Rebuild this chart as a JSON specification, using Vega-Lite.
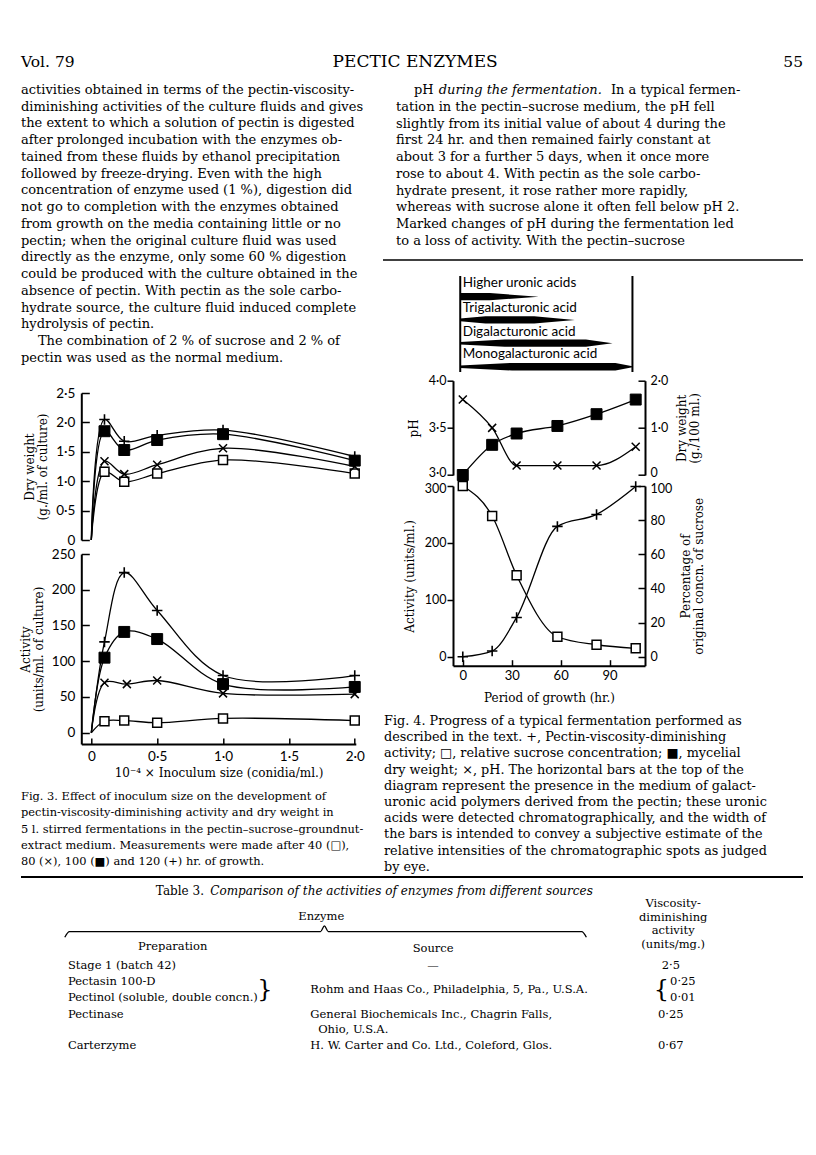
{
"$schema":"https://vega.github.io/schema/vega-lite/v6.json",
"background":"white",
"padding":{"left":18,"top":52,"right":0,"bottom":0},
"bounds":"flush",
"spacing":0,
"config":{
 "view":{"stroke":null},
 "axis":{"domainColor":"black","domainWidth":2,"tickColor":"black","tickWidth":1.5,"labelFont":"Lato","labelFontSize":13.5,"labelColor":"black","titleFont":"DejaVu Serif","titleFontSize":12,"titleFontWeight":"normal","titleColor":"black","titleLineHeight":13,"grid":false,"labelFlush":false,"labelOverlap":false},
 "text":{"font":"DejaVu Serif","color":"black","baseline":"middle"}
},
"datasets":{
 "bodyLeft":[
  {"line":0,"x":0,"text":"activities obtained in terms of the pectin-viscosity-"},
  {"line":1,"x":0,"text":"diminishing activities of the culture fluids and gives"},
  {"line":2,"x":0,"text":"the extent to which a solution of pectin is digested"},
  {"line":3,"x":0,"text":"after prolonged incubation with the enzymes ob-"},
  {"line":4,"x":0,"text":"tained from these fluids by ethanol precipitation"},
  {"line":5,"x":0,"text":"followed by freeze-drying. Even with the high"},
  {"line":6,"x":0,"text":"concentration of enzyme used (1 %), digestion did"},
  {"line":7,"x":0,"text":"not go to completion with the enzymes obtained"},
  {"line":8,"x":0,"text":"from growth on the media containing little or no"},
  {"line":9,"x":0,"text":"pectin; when the original culture fluid was used"},
  {"line":10,"x":0,"text":"directly as the enzyme, only some 60 % digestion"},
  {"line":11,"x":0,"text":"could be produced with the culture obtained in the"},
  {"line":12,"x":0,"text":"absence of pectin. With pectin as the sole carbo-"},
  {"line":13,"x":0,"text":"hydrate source, the culture fluid induced complete"},
  {"line":14,"x":0,"text":"hydrolysis of pectin."},
  {"line":15,"x":4.9,"text":"The combination of 2 % of sucrose and 2 % of"},
  {"line":16,"x":0,"text":"pectin was used as the normal medium."}
 ],
 "bodyRight":[
  {"line":0,"x":4.4,"text":"pH"},
  {"line":0,"x":52.8,"text":"In a typical fermen-"},
  {"line":1,"x":0,"text":"tation in the pectin–sucrose medium, the pH fell"},
  {"line":2,"x":0,"text":"slightly from its initial value of about 4 during the"},
  {"line":3,"x":0,"text":"first 24 hr. and then remained fairly constant at"},
  {"line":4,"x":0,"text":"about 3 for a further 5 days, when it once more"},
  {"line":5,"x":0,"text":"rose to about 4. With pectin as the sole carbo-"},
  {"line":6,"x":0,"text":"hydrate present, it rose rather more rapidly,"},
  {"line":7,"x":0,"text":"whereas with sucrose alone it often fell below pH 2."},
  {"line":8,"x":0,"text":"Marked changes of pH during the fermentation led"},
  {"line":9,"x":0,"text":"to a loss of activity. With the pectin–sucrose"}
 ],
 "bodyRightIt":[{"line":0,"x":10.5,"text":"during the fermentation."}],
 "fig3dw":[
  {"h":"40","x":0,"y":0},{"h":"40","x":0.1,"y":1.16},{"h":"40","x":0.25,"y":0.99},{"h":"40","x":0.5,"y":1.13},{"h":"40","x":1.0,"y":1.36},{"h":"40","x":2.0,"y":1.13},
  {"h":"80","x":0,"y":0},{"h":"80","x":0.1,"y":1.34},{"h":"80","x":0.25,"y":1.12},{"h":"80","x":0.5,"y":1.28},{"h":"80","x":1.0,"y":1.56},{"h":"80","x":2.0,"y":1.25},
  {"h":"100","x":0,"y":0},{"h":"100","x":0.1,"y":1.85},{"h":"100","x":0.25,"y":1.53},{"h":"100","x":0.5,"y":1.70},{"h":"100","x":1.0,"y":1.80},{"h":"100","x":2.0,"y":1.35},
  {"h":"120","x":0,"y":0},{"h":"120","x":0.1,"y":2.05},{"h":"120","x":0.25,"y":1.68},{"h":"120","x":0.5,"y":1.78},{"h":"120","x":1.0,"y":1.87},{"h":"120","x":2.0,"y":1.42}
 ],
 "fig3act":[
  {"h":"40","x":0,"y":0},{"h":"40","x":0.1,"y":16},{"h":"40","x":0.25,"y":17},{"h":"40","x":0.5,"y":14},{"h":"40","x":1.0,"y":20},{"h":"40","x":2.0,"y":17},
  {"h":"80","x":0,"y":0},{"h":"80","x":0.1,"y":70},{"h":"80","x":0.27,"y":68},{"h":"80","x":0.5,"y":73},{"h":"80","x":1.0,"y":55},{"h":"80","x":2.0,"y":54},
  {"h":"100","x":0,"y":0},{"h":"100","x":0.1,"y":105},{"h":"100","x":0.25,"y":141},{"h":"100","x":0.5,"y":131},{"h":"100","x":1.0,"y":68},{"h":"100","x":2.0,"y":64},
  {"h":"120","x":0,"y":0},{"h":"120","x":0.1,"y":127},{"h":"120","x":0.25,"y":224},{"h":"120","x":0.5,"y":171},{"h":"120","x":1.0,"y":80},{"h":"120","x":2.0,"y":80}
 ],
 "ph":[{"t":0,"v":3.8},{"t":18,"v":3.5},{"t":33,"v":3.1},{"t":58,"v":3.1},{"t":82,"v":3.1},{"t":106,"v":3.3}],
 "dw4":[{"t":0,"v":0.0},{"t":18,"v":0.64},{"t":33,"v":0.88},{"t":58,"v":1.04},{"t":82,"v":1.29},{"t":106,"v":1.6}],
 "act4":[{"t":0,"v":0},{"t":18,"v":10},{"t":33,"v":69},{"t":58,"v":229},{"t":82,"v":250},{"t":106,"v":299}],
 "suc4":[{"t":0,"v":100},{"t":18,"v":82.4},{"t":33,"v":47.7},{"t":58,"v":11.7},{"t":82,"v":7.0},{"t":106,"v":4.9}],
 "bars":[
  {"acid":"Higher uronic acids","t":-5.1,"lo":2.99,"hi":3.29},{"acid":"Higher uronic acids","t":15,"lo":2.99,"hi":3.29},{"acid":"Higher uronic acids","t":48,"lo":3.14,"hi":3.14},
  {"acid":"Trigalacturonic acid","t":-5.1,"lo":2.11,"hi":2.23},{"acid":"Trigalacturonic acid","t":12,"lo":2.02,"hi":2.32},{"acid":"Trigalacturonic acid","t":45,"lo":2.02,"hi":2.32},{"acid":"Trigalacturonic acid","t":72.5,"lo":2.17,"hi":2.17},
  {"acid":"Digalacturonic acid","t":-5.1,"lo":1.15,"hi":1.25},{"acid":"Digalacturonic acid","t":25,"lo":1.05,"hi":1.35},{"acid":"Digalacturonic acid","t":80,"lo":1.05,"hi":1.35},{"acid":"Digalacturonic acid","t":98,"lo":1.2,"hi":1.2},
  {"acid":"Monogalacturonic acid","t":-5.1,"lo":0.17,"hi":0.27},{"acid":"Monogalacturonic acid","t":30,"lo":0.06,"hi":0.38},{"acid":"Monogalacturonic acid","t":100,"lo":0.06,"hi":0.38},{"acid":"Monogalacturonic acid","t":111.5,"lo":0.2,"hi":0.24}
 ],
 "barLabels":[
  {"label":"Higher uronic acids","t":-3.4,"y":3.71},
  {"label":"Trigalacturonic acid","t":-3.4,"y":2.67},
  {"label":"Digalacturonic acid","t":-3.4,"y":1.68},
  {"label":"Monogalacturonic acid","t":-3.4,"y":0.75}
 ],
 "cap3":[
  {"line":0,"x":0,"text":"Fig. 3. Effect of inoculum size on the development of"},
  {"line":1,"x":0,"text":"pectin-viscosity-diminishing activity and dry weight in"},
  {"line":2,"x":0,"text":"5 l. stirred fermentations in the pectin–sucrose–groundnut-"},
  {"line":3,"x":0,"text":"extract medium. Measurements were made after 40 (□),"},
  {"line":4,"x":0,"text":"80 (×), 100 (■) and 120 (+) hr. of growth."}
 ],
 "cap4":[
  {"line":0,"x":0,"text":"Fig. 4. Progress of a typical fermentation performed as"},
  {"line":1,"x":0,"text":"described in the text. +, Pectin-viscosity-diminishing"},
  {"line":2,"x":0,"text":"activity; □, relative sucrose concentration; ■, mycelial"},
  {"line":3,"x":0,"text":"dry weight; ×, pH. The horizontal bars at the top of the"},
  {"line":4,"x":0,"text":"diagram represent the presence in the medium of galact-"},
  {"line":5,"x":0,"text":"uronic acid polymers derived from the pectin; these uronic"},
  {"line":6,"x":0,"text":"acids were detected chromatographically, and the width of"},
  {"line":7,"x":0,"text":"the bars is intended to convey a subjective estimate of the"},
  {"line":8,"x":0,"text":"relative intensities of the chromatographic spots as judged"},
  {"line":9,"x":0,"text":"by eye."}
 ],
 "tableLeft":[
  {"x":6.0,"r":5.84,"text":"Stage 1 (batch 42)"},
  {"x":6.0,"r":6.89,"text":"Pectasin 100-D"},
  {"x":6.0,"r":7.93,"text":"Pectinol (soluble, double concn.)"},
  {"x":37.0,"r":7.41,"text":"Rohm and Haas Co., Philadelphia, 5, Pa., U.S.A."},
  {"x":83.0,"r":6.89,"text":"0·25"},
  {"x":83.0,"r":7.93,"text":"0·01"},
  {"x":6.0,"r":9.05,"text":"Pectinase"},
  {"x":37.0,"r":9.05,"text":"General Biochemicals Inc., Chagrin Falls,"},
  {"x":38.0,"r":10.03,"text":"Ohio, U.S.A."},
  {"x":6.0,"r":11.08,"text":"Carterzyme"},
  {"x":37.0,"r":11.08,"text":"H. W. Carter and Co. Ltd., Coleford, Glos."}
 ],
 "tableCenter":[
  {"x":38.4,"r":2.62,"text":"Enzyme"},
  {"x":83.4,"r":1.77,"text":"Viscosity-"},
  {"x":83.4,"r":2.66,"text":"diminishing"},
  {"x":83.4,"r":3.54,"text":"activity"},
  {"x":83.4,"r":4.43,"text":"(units/mg.)"},
  {"x":19.4,"r":4.6,"text":"Preparation"},
  {"x":52.7,"r":4.7,"text":"Source"},
  {"x":52.7,"r":5.84,"text":"—"},
  {"x":83.1,"r":5.84,"text":"2·5"},
  {"x":83.1,"r":9.05,"text":"0·25"},
  {"x":83.1,"r":11.08,"text":"0·67"}
 ],
 "tableTitle":[{"x":23.4,"r":0.92,"text":"Table 3."}],
 "tableTitleIt":[{"x":24.2,"r":0.92,"text":"Comparison of the activities of enzymes from different sources"}],
 "braces":[{"x":31.2,"r":7.41,"text":"}"},{"x":81.9,"r":7.41,"text":"{"}],
 "braceLine":[{"x":5.6,"r":3.95},{"x":6.2,"r":3.58},{"x":38.3,"r":3.58},{"x":38.8,"r":3.2},{"x":39.3,"r":3.58},{"x":71.7,"r":3.58},{"x":72.3,"r":3.95}],
 "topRule":[{"x":0,"x2":100,"r":0}],
 "dummy":[{"a":1}]
},
"vconcat":[
 {
  "width":782,"height":20,
  "encoding":{"x":{"field":"x","type":"quantitative","scale":{"domain":[0,100]},"axis":null},"text":{"field":"text"}},
  "layer":[
   {"data":{"values":[{"x":0,"text":"Vol. 79"}]},"mark":{"type":"text","align":"left","fontSize":15.5}},
   {"data":{"values":[{"x":50.4,"text":"PECTIC ENZYMES"}]},"mark":{"type":"text","align":"center","fontSize":17}},
   {"data":{"values":[{"x":100,"text":"55"}]},"mark":{"type":"text","align":"right","fontSize":15.5}}
  ]
 },
 {
 "vconcat":[
 {
  "hconcat":[
   {
    "vconcat":[
     {
      "width":345,"height":300,
      "data":{"name":"bodyLeft"},
      "mark":{"type":"text","align":"left","fontSize":13},
      "encoding":{
       "x":{"field":"x","type":"quantitative","scale":{"domain":[0,100]},"axis":null},
       "y":{"field":"line","type":"quantitative","scale":{"domain":[-1.0746,16.836],"reverse":true},"axis":null},
       "text":{"field":"text"}
      }
     },
     {
      "vconcat":[
       {
        "hconcat":[
         {"width":1,"height":1,"data":{"name":"dummy"},"mark":{"type":"point","opacity":0}},
         {
          "vconcat":[
           {
            "width":274.5,"height":147,
            "data":{"name":"fig3dw"},
            "encoding":{
             "x":{"field":"x","type":"quantitative","scale":{"domain":[-0.076,2.008]},"axis":null},
             "y":{"field":"y","type":"quantitative","scale":{"domain":[0,2.5]},
                  "axis":{"values":[0,0.5,1,1.5,2,2.5],"labelExpr":"datum.value == 0 ? '0' : replace(format(datum.value, '.1f'), '.', '·')","tickSize":-8,"labelPadding":14.5,"title":["Dry weight","(g./ml. of culture)"],"titlePadding":6}}
            },
            "layer":[
             {"mark":{"type":"line","interpolate":"catmull-rom","color":"black","strokeWidth":1.3},"encoding":{"detail":{"field":"h"}}},
             {"transform":[{"filter":"datum.h == '40' && datum.x > 0"}],"mark":{"type":"point","shape":"square","filled":true,"fill":"white","stroke":"black","strokeWidth":1.5,"size":80,"opacity":1}},
             {"transform":[{"filter":"datum.h == '80' && datum.x > 0"}],"mark":{"type":"point","shape":"M-1,-1L1,1M-1,1L1,-1","filled":false,"color":"black","stroke":"black","strokeWidth":1.5,"size":64,"opacity":1}},
             {"transform":[{"filter":"datum.h == '120' && datum.x > 0"}],"mark":{"type":"point","shape":"M-1,0H1M0,-1V1","filled":false,"color":"black","stroke":"black","strokeWidth":1.6,"size":110,"opacity":1}},
             {"transform":[{"filter":"datum.h == '100' && datum.x > 0"}],"mark":{"type":"point","shape":"square","filled":true,"fill":"black","stroke":"black","strokeWidth":1,"size":120,"opacity":1}}
            ]
           },
           {
            "width":274.5,"height":190,
            "data":{"name":"fig3act"},
            "encoding":{
             "x":{"field":"x","type":"quantitative","scale":{"domain":[-0.076,2.008]},
                  "axis":{"values":[0,0.5,1,1.5,2],"labelExpr":"datum.value == 0 ? '0' : replace(format(datum.value, '.1f'), '.', '·')","tickSize":-6,"labelPadding":11,"title":"10⁻⁴ × Inoculum size (conidia/ml.)","titlePadding":5}},
             "y":{"field":"y","type":"quantitative","scale":{"domain":[-15.8,250]},
                  "axis":{"values":[0,50,100,150,200,250],"tickSize":-8,"labelPadding":14.5,"title":["Activity","(units/ml. of culture)"],"titlePadding":6}}
            },
            "layer":[
             {"mark":{"type":"line","interpolate":"catmull-rom","color":"black","strokeWidth":1.3},"encoding":{"detail":{"field":"h"}}},
             {"transform":[{"filter":"datum.h == '40' && datum.x > 0"}],"mark":{"type":"point","shape":"square","filled":true,"fill":"white","stroke":"black","strokeWidth":1.5,"size":80,"opacity":1}},
             {"transform":[{"filter":"datum.h == '80' && datum.x > 0"}],"mark":{"type":"point","shape":"M-1,-1L1,1M-1,1L1,-1","filled":false,"color":"black","stroke":"black","strokeWidth":1.5,"size":64,"opacity":1}},
             {"transform":[{"filter":"datum.h == '120' && datum.x > 0"}],"mark":{"type":"point","shape":"M-1,0H1M0,-1V1","filled":false,"color":"black","stroke":"black","strokeWidth":1.6,"size":110,"opacity":1}},
             {"transform":[{"filter":"datum.h == '100' && datum.x > 0"}],"mark":{"type":"point","shape":"square","filled":true,"fill":"black","stroke":"black","strokeWidth":1,"size":120,"opacity":1}}
            ]
           }
          ],
          "spacing":14,"bounds":"flush"
         }
        ],
        "spacing":59.3,"bounds":"flush"
       },
       {
        "width":345,"height":85,
        "data":{"name":"cap3"},
        "mark":{"type":"text","align":"left","fontSize":11.4},
        "encoding":{
         "x":{"field":"x","type":"quantitative","scale":{"domain":[0,100]},"axis":null},
         "y":{"field":"line","type":"quantitative","scale":{"domain":[-0.615,4.615],"reverse":true},"axis":null},
         "text":{"field":"text"}
        }
       }
      ],
      "spacing":394,"bounds":"flush"
     }
    ],
    "spacing":21,"bounds":"flush"
   },
   {
    "vconcat":[
     {
      "width":407,"height":194,
      "encoding":{
       "x":{"field":"x","type":"quantitative","scale":{"domain":[0,100]},"axis":null},
       "y":{"field":"line","type":"quantitative","scale":{"domain":[-1.0746,10.507],"reverse":true},"axis":null}
      },
      "layer":[
       {"data":{"name":"bodyRight"},"mark":{"type":"text","align":"left","fontSize":13},"encoding":{"text":{"field":"text"}}},
       {"data":{"name":"bodyRightIt"},"mark":{"type":"text","align":"left","fontSize":13,"fontStyle":"italic"},"encoding":{"text":{"field":"text"}}},
       {"data":{"values":[{"x":-3.2,"x2":100,"line":10.15}]},"mark":{"type":"rule","color":"black","strokeWidth":1.5},"encoding":{"x2":{"field":"x2"}}}
      ]
     },
     {
      "vconcat":[
       {
        "hconcat":[
         {"width":1,"height":1,"data":{"name":"dummy"},"mark":{"type":"point","opacity":0}},
         {
          "vconcat":[
           {
            "width":192,"height":96,
            "layer":[
             {"data":{"name":"bars"},"mark":{"type":"area","color":"black","interpolate":"linear"},
              "encoding":{
               "x":{"field":"t","type":"quantitative","scale":{"domain":[-6,111.7]},"axis":null},
               "y":{"field":"lo","type":"quantitative","scale":{"domain":[0,4]},"axis":null},
               "y2":{"field":"hi"},
               "detail":{"field":"acid"}
              }},
             {"data":{"name":"barLabels"},"mark":{"type":"text","align":"left","font":"Lato","fontSize":13.5},
              "encoding":{
               "x":{"field":"t","type":"quantitative","axis":null},
               "y":{"field":"y","type":"quantitative","axis":null},
               "text":{"field":"label"}
              }},
             {"data":{"values":[{"t":-5.1,"y":0,"y2":4},{"t":111.5,"y":0,"y2":4}]},"mark":{"type":"rule","color":"black","strokeWidth":2},
              "encoding":{
               "x":{"field":"t","type":"quantitative","axis":null},
               "y":{"field":"y","type":"quantitative","axis":null},
               "y2":{"field":"y2"}
              }}
            ]
           },
           {
            "vconcat":[
             {
              "width":192,"height":94.3,
              "layer":[
               {
                "data":{"name":"ph"},
                "encoding":{
                 "x":{"field":"t","type":"quantitative","scale":{"domain":[-6,111.7]},"axis":null},
                 "y":{"field":"v","type":"quantitative","scale":{"domain":[3,4]},
                      "axis":{"values":[3,3.5,4],"labelExpr":"replace(format(datum.value, '.1f'), '.', '·')","labelFontSize":12.5,"labelOffset":{"condition":{"test":"datum.value == 3","value":-3},"value":0},"tickSize":6,"labelPadding":1,"title":"pH","titlePadding":8}}
                },
                "layer":[
                 {"mark":{"type":"line","interpolate":"monotone","color":"black","strokeWidth":1.3}},
                 {"mark":{"type":"point","shape":"M-1,-1L1,1M-1,1L1,-1","filled":false,"color":"black","stroke":"black","strokeWidth":1.5,"size":64,"opacity":1}}
                ]
               },
               {
                "data":{"name":"dw4"},
                "encoding":{
                 "x":{"field":"t","type":"quantitative","scale":{"domain":[-6,111.7]},"axis":null},
                 "y":{"field":"v","type":"quantitative","scale":{"domain":[0,2]},
                      "axis":{"orient":"right","values":[0,1,2],"labelExpr":"datum.value == 0 ? '0' : replace(format(datum.value, '.1f'), '.', '·')","labelFontSize":12.5,"labelOffset":{"condition":{"test":"datum.value == 0","value":-3},"value":0},"tickSize":-7,"labelPadding":12,"title":["Dry weight","(g./100 ml.)"],"titleAngle":270,"titlePadding":8}}
                },
                "layer":[
                 {"mark":{"type":"line","interpolate":"monotone","color":"black","strokeWidth":1.3}},
                 {"mark":{"type":"point","shape":"square","filled":true,"fill":"black","stroke":"black","strokeWidth":1,"size":120,"opacity":1}}
                ]
               }
              ],
              "resolve":{"scale":{"y":"independent"},"axis":{"y":"independent"}}
             },
             {
              "width":192,"height":179.7,
              "layer":[
               {
                "data":{"name":"act4"},
                "encoding":{
                 "x":{"field":"t","type":"quantitative","scale":{"domain":[-6,111.7]},
                      "axis":{"values":[0,30,60,90],"labelFontSize":13,"tickSize":-6,"labelPadding":10,"title":"Period of growth (hr.)","titlePadding":10}},
                 "y":{"field":"v","type":"quantitative","scale":{"domain":[-15.8,300]},
                      "axis":{"values":[0,100,200,300],"labelFontSize":12.5,"labelOffset":{"condition":{"test":"datum.value == 300","value":2},"value":0},"tickSize":6,"labelPadding":1,"title":"Activity (units/ml.)","titlePadding":8}}
                },
                "layer":[
                 {"mark":{"type":"line","interpolate":"monotone","color":"black","strokeWidth":1.3}},
                 {"mark":{"type":"point","shape":"M-1,0H1M0,-1V1","filled":false,"color":"black","stroke":"black","strokeWidth":1.6,"size":110,"opacity":1}}
                ]
               },
               {
                "data":{"name":"suc4"},
                "encoding":{
                 "x":{"field":"t","type":"quantitative","scale":{"domain":[-6,111.7]}},
                 "y":{"field":"v","type":"quantitative","scale":{"domain":[-5.27,100]},
                      "axis":{"orient":"right","values":[0,20,40,60,80,100],"labelFontSize":12.5,"labelOffset":{"condition":{"test":"datum.value == 100","value":2},"value":0},"tickSize":-7,"labelPadding":12,"title":["Percentage of","original concn. of sucrose"],"titleAngle":270,"titlePadding":8}}
                },
                "layer":[
                 {"mark":{"type":"line","interpolate":"monotone","color":"black","strokeWidth":1.3}},
                 {"mark":{"type":"point","shape":"square","filled":true,"fill":"white","stroke":"black","strokeWidth":1.5,"size":80,"opacity":1}}
                ]
               }
              ],
              "resolve":{"scale":{"y":"independent"},"axis":{"y":"independent"}}
             }
            ],
            "spacing":10.3,"bounds":"flush"
           }
          ],
          "spacing":8.7,"bounds":"flush"
         }
        ],
        "spacing":56,"bounds":"flush"
       },
       {
        "width":407,"height":166,
        "data":{"name":"cap4"},
        "mark":{"type":"text","align":"left","fontSize":12.8},
        "encoding":{
         "x":{"field":"x","type":"quantitative","scale":{"domain":[2.864,100]},"axis":null},
         "y":{"field":"line","type":"quantitative","scale":{"domain":[-0.617,9.63],"reverse":true},"axis":null},
         "text":{"field":"text"}
        }
       }
      ],
      "spacing":435,"bounds":"flush"
     }
    ],
    "spacing":10,"bounds":"flush"
   }
  ],
  "spacing":375,"bounds":"flush"
 },
 {
  "width":782,"height":183,
  "encoding":{
   "x":{"field":"x","type":"quantitative","scale":{"domain":[0,100]},"axis":null},
   "y":{"field":"r","type":"quantitative","scale":{"domain":[0,12],"reverse":true},"axis":null}
  },
  "layer":[
   {"data":{"name":"topRule"},"mark":{"type":"rule","color":"black","strokeWidth":2},"encoding":{"x2":{"field":"x2"}}},
   {"data":{"name":"tableTitle"},"mark":{"type":"text","align":"right","fontSize":12},"encoding":{"text":{"field":"text"}}},
   {"data":{"name":"tableTitleIt"},"mark":{"type":"text","align":"left","fontSize":12,"fontStyle":"italic"},"encoding":{"text":{"field":"text"}}},
   {"data":{"name":"tableLeft"},"mark":{"type":"text","align":"left","fontSize":11.5},"encoding":{"text":{"field":"text"}}},
   {"data":{"name":"tableCenter"},"mark":{"type":"text","align":"center","fontSize":11.5},"encoding":{"text":{"field":"text"}}},
   {"data":{"name":"braces"},"mark":{"type":"text","align":"center","fontSize":24,"fontWeight":"lighter"},"encoding":{"text":{"field":"text"}}},
   {"data":{"name":"braceLine"},"mark":{"type":"line","color":"black","strokeWidth":1.3,"interpolate":"monotone"}}
  ]
 }
 ],
 "spacing":805,"bounds":"flush"
 }
]
}
